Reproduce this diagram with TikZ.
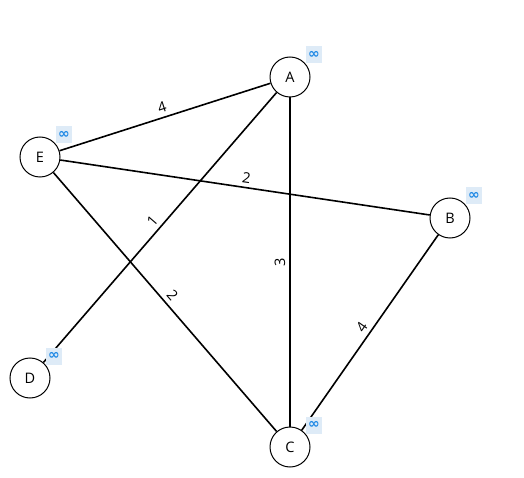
\documentclass[tikz,border=0pt]{standalone}
\usepackage{fontspec}
\setmainfont{Open Sans}
\newfontfamily\inffont{DejaVu Sans}
\usepackage{tikz}
\usetikzlibrary{positioning}
\definecolor{infc}{RGB}{30,136,229}
\definecolor{infbg}{RGB}{222,235,247}

\begin{document}
\begin{tikzpicture}[x=1pt,y=-1pt,
  vtx/.style={circle,draw,fill=white,line width=1pt,minimum size=40pt,inner sep=0pt,font=\fontsize{14.5}{14.5}\selectfont},
  edge/.style={line width=1.6pt},
  wt/.style={midway,sloped,above=3pt,inner sep=1pt,font=\fontsize{14.5}{14.5}\selectfont},
  dist/.style={fill=infbg,text=infc,inner sep=2pt,minimum width=13pt,minimum height=17pt,font=\inffont\bfseries\fontsize{14}{14}\selectfont}]
  \useasboundingbox (0,0) rectangle (524,478);
  \foreach \n/\x/\y in {A/290/77,B/450/218,C/290/447,D/30/378,E/40/157}
    \node[vtx] (\n) at (\x,\y) {\n};
  \foreach \a/\b/\w in {E/A/4,E/B/2,D/A/1,E/C/2,C/A/3,C/B/4}
    \draw[edge] (\a) -- node[wt] {\w} (\b);
  \foreach \n in {A,B,C,D,E}
    \node[dist] (\n inf) at ([shift={(24,-22)}]\n.center) {∞};
\end{tikzpicture}
\end{document}
